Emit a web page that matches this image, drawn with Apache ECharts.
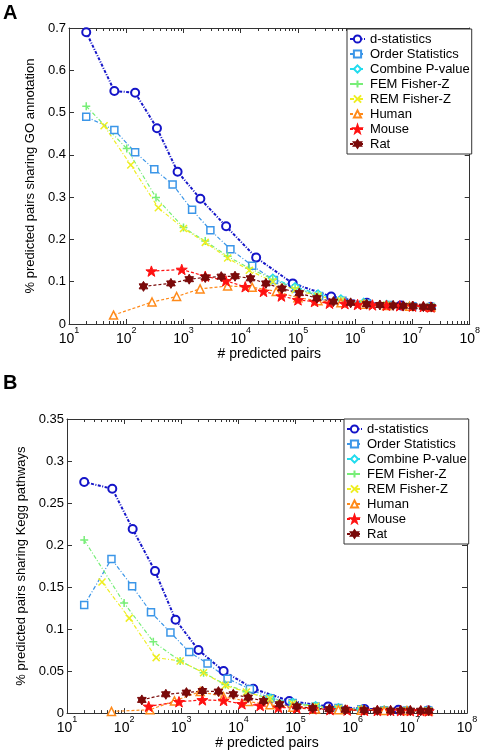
<!DOCTYPE html>
<html><head><meta charset="utf-8">
<script src="https://cdn.jsdelivr.net/npm/echarts@6/dist/echarts.min.js"></script>
<style>html,body{margin:0;padding:0;background:#fff;}#c{width:483px;height:751px;}</style>
</head><body><div id="c"></div>
<script>
// ---------- DATA ----------
const seriesNames = ['d-statistics','Order Statistics','Combine P-value','FEM Fisher-Z','REM Fisher-Z','Human','Mouse','Rat'];
const xMajorTicks = [10,100,1000,10000,100000,1000000,10000000,100000000];
const yTicksA = [0,0.1,0.2,0.3,0.4,0.5,0.6,0.7];
const yTicksB = [0,0.05,0.1,0.15,0.2,0.25,0.3,0.35];
const xAxisTitle = '# predicted pairs';
const yTitleA = '% predicted pairs sharing GO annotation';
const yTitleB = '% predicted pairs sharing Kegg pathways';

// Panel A (GO annotation)
const dStatA_x = [20,62,143,344,789,1970,5550,18600,81000,380000,1600000,6300000,21000000];
const dStatA_y = [0.69,0.551,0.547,0.463,0.360,0.296,0.231,0.157,0.096,0.065,0.050,0.044,0.040];
const orderA_x = [20,62,143,309,646,1413,2951,6607,15850,38000,93000,234000,600000,1600000,4000000,10000000,21000000];
const orderA_y = [0.49,0.459,0.406,0.366,0.330,0.270,0.222,0.177,0.138,0.104,0.084,0.066,0.055,0.049,0.045,0.042,0.040];
const combA_x = [36300,89000,224000,562000,1410000,3550000,8900000,21000000];
const combA_y = [0.108,0.088,0.071,0.059,0.051,0.046,0.042,0.040];
const femA_x = [20,102,331,1000,2400,5900,14100,36300,89000,224000,562000,1410000,3550000,8900000,21000000];
const femA_y = [0.515,0.415,0.299,0.228,0.196,0.160,0.132,0.106,0.085,0.068,0.056,0.049,0.045,0.042,0.040];
const remA_x = [41,120,363,1000,2400,5900,14100,36300,89000,224000,562000,1410000,3550000,8900000,21000000];
const remA_y = [0.469,0.376,0.275,0.226,0.193,0.156,0.127,0.100,0.081,0.066,0.055,0.048,0.045,0.042,0.040];
const humanA_x = [60,282,759,1950,5900,15850,41700,100000,224000,562000,1410000,3550000,8900000,21000000];
const humanA_y = [0.021,0.052,0.065,0.083,0.090,0.087,0.077,0.062,0.055,0.050,0.047,0.044,0.042,0.040];
const mouseA_x = [275,933,2400,5500,12000,25000,51300,100000,195000,355000,660000,1100000,2000000,3500000,6000000,10000000,15500000,21000000];
const mouseA_y = [0.125,0.129,0.113,0.102,0.088,0.077,0.066,0.057,0.053,0.049,0.048,0.046,0.045,0.044,0.043,0.042,0.041,0.040];
const ratA_x = [200,603,1259,2400,4571,7943,14800,27500,52500,105000,214000,417000,832000,1580000,2700000,4600000,6900000,10200000,15500000,21400000];
const ratA_y = [0.089,0.096,0.106,0.110,0.112,0.113,0.108,0.096,0.084,0.073,0.061,0.053,0.050,0.047,0.045,0.044,0.043,0.042,0.041,0.040];

// Panel B (Kegg pathways)
const dStatB_x = [20,62,141,347,794,2000,5500,18200,77600,372000,1600000,6300000,21000000];
const dStatB_y = [0.275,0.267,0.219,0.169,0.111,0.075,0.050,0.029,0.0145,0.008,0.005,0.004,0.003];
const orderB_x = [20,60,138,295,646,1380,2880,6460,15850,36300,89000,224000,562000,1410000,3550000,8900000,21000000];
const orderB_y = [0.1285,0.1835,0.151,0.120,0.096,0.0727,0.059,0.041,0.0287,0.0177,0.012,0.008,0.006,0.0045,0.0035,0.003,0.003];
const combB_x = [35500,89000,224000,562000,1410000,3550000,8900000,21000000];
const combB_y = [0.018,0.0125,0.0088,0.0062,0.0046,0.0036,0.0031,0.0029];
const femB_x = [20,100,324,955,2455,5900,13800,35500,89000,224000,562000,1410000,3550000,8900000,21000000];
const femB_y = [0.206,0.131,0.085,0.062,0.048,0.034,0.0255,0.017,0.0115,0.008,0.0055,0.0042,0.0035,0.003,0.0028];
const remB_x = [41,123,363,955,2455,5900,13800,35500,89000,224000,562000,1410000,3550000,8900000,21000000];
const remB_y = [0.156,0.113,0.066,0.062,0.048,0.033,0.025,0.017,0.0115,0.008,0.0055,0.0042,0.0035,0.003,0.0028];
const humanB_x = [60,282,759,2140,5500,14800,35500,89000,224000,562000,1410000,3550000,8900000,21000000];
const humanB_y = [0.002,0.004,0.0145,0.0256,0.0195,0.0138,0.0098,0.007,0.005,0.004,0.0035,0.003,0.003,0.0028];
const mouseB_x = [269,912,2340,5500,11500,24000,50000,105000,200000,400000,800000,1600000,2700000,4600000,6900000,10200000,15500000,21400000];
const mouseB_y = [0.008,0.0135,0.0157,0.015,0.011,0.009,0.0067,0.006,0.005,0.004,0.0035,0.0032,0.003,0.003,0.0029,0.0028,0.0027,0.0026];
const ratB_x = [204,537,1230,2340,4470,8130,14800,27500,52500,105000,200000,389000,741000,1580000,2700000,4600000,6900000,10200000,15500000,21400000];
const ratB_y = [0.0157,0.0224,0.0244,0.0263,0.0256,0.0224,0.0185,0.0145,0.0106,0.0079,0.0059,0.0047,0.004,0.0035,0.0032,0.003,0.003,0.0029,0.0028,0.0027];

// ---------- STYLE ----------
const FONT = '"Liberation Sans", Arial, sans-serif';
const STAR = 'path://M5,0L6.18,3.38L9.76,3.45L6.9,5.62L7.94,9.05L5,7L2.06,9.05L3.1,5.62L0.24,3.45L3.82,3.38Z';
const HEXA = 'path://M5,0L9.33,7.5L0.67,7.5Z M5,10L0.67,2.5L9.33,2.5Z';
const PLUS = 'path://M5,0L5,10M0,5L10,5';
const CROSS = 'path://M0,0L10,10M10,0L0,10';
const styles = {
  'd-statistics':      {c:'#1414c8', sym:'circle',   size:8,  fill:'#ffffff', bw:2,   lw:2,   dash:[3,1.5,1,1.5]},
  'Order Statistics':  {c:'#3b96e8', sym:'rect',     size:7,  fill:'#ffffff', bw:1.5, lw:1.2, dash:[4,2,1,2]},
  'Combine P-value':   {c:'#22dcee', sym:'diamond',  size:8,  fill:'#ffffff', bw:1.5, lw:1.2, dash:[4,2,1,2]},
  'FEM Fisher-Z':      {c:'#77ee77', sym:PLUS,       size:8,  fill:'none',    bw:1.5, lw:1.2, dash:[4,2,1,2]},
  'REM Fisher-Z':      {c:'#eeee22', sym:CROSS,      size:7,  fill:'none',    bw:1.5, lw:1.2, dash:[4,2,1,2]},
  'Human':             {c:'#ff8a1a', sym:'triangle', size:8,  fill:'#ffffff', bw:1.5, lw:1.2, dash:[3,2]},
  'Mouse':             {c:'#ff1111', sym:STAR,       size:11, fill:'#ff1111', bw:1,   lw:1.2, dash:[3,2]},
  'Rat':               {c:'#7a0a0a', sym:HEXA,       size:10, fill:'#7a0a0a', bw:1,   lw:1.2, dash:[3,2]}
};

const minorTicks = [];
for (let d = 1; d < 8; d++) for (let m = 2; m <= 9; m++) minorTicks.push(m * Math.pow(10, d));

function zip(xs, ys) { return xs.map((x, i) => [x, ys[i]]); }
function mkSeries(name, xs, ys, g) {
  const s = styles[name];
  return {
    type: 'line', name, xAxisIndex: g * 4, yAxisIndex: g * 2,
    data: zip(xs, ys),
    symbol: s.sym, symbolSize: s.size, symbolKeepAspect: true, showAllSymbol: true,
    lineStyle: {color: s.c, width: s.lw, type: s.dash},
    itemStyle: {color: s.fill === 'none' ? 'rgba(255,255,255,0)' : s.fill, borderColor: s.c, borderWidth: s.bw},
    emphasis: {disabled: true}, silent: true, animation: false
  };
}
const axisLineStyle = {color: '#333', width: 1};
function xAxes(g) {
  const base = {type: 'log', logBase: 10, gridIndex: g, min: 10, max: 100000000, splitLine: {show: false}};
  return [
    Object.assign({}, base, {
      position: 'bottom', axisLine: {show: true, lineStyle: axisLineStyle},
      axisTick: {inside: true, length: 5, customValues: xMajorTicks, lineStyle: axisLineStyle},
      axisLabel: {customValues: xMajorTicks, margin: 2, color: '#000', fontFamily: FONT,
        formatter: v => '{b|10}{s|' + Math.round(Math.log10(v)) + '}',
        rich: {b: {fontSize: 14, lineHeight: 20, verticalAlign: 'bottom', fontFamily: FONT, color: '#000'},
               s: {fontSize: 9, lineHeight: 20, verticalAlign: 'top', fontFamily: FONT, color: '#000'}}},
      name: xAxisTitle, nameLocation: 'middle', nameGap: 21,
      nameTextStyle: {fontSize: 14, fontFamily: FONT, color: '#000'}
    }),
    Object.assign({}, base, {position: 'bottom', axisLine: {show: false},
      axisTick: {inside: true, length: 3, customValues: minorTicks, lineStyle: axisLineStyle}, axisLabel: {show: false}}),
    Object.assign({}, base, {position: 'top', axisLine: {show: true, lineStyle: axisLineStyle},
      axisTick: {inside: true, length: 5, customValues: xMajorTicks, lineStyle: axisLineStyle}, axisLabel: {show: false}}),
    Object.assign({}, base, {position: 'top', axisLine: {show: false},
      axisTick: {inside: true, length: 3, customValues: minorTicks, lineStyle: axisLineStyle}, axisLabel: {show: false}})
  ];
}
function yAxes(g, ticks, title, gap) {
  const base = {type: 'value', gridIndex: g, min: ticks[0], max: ticks[ticks.length - 1], interval: ticks[1] - ticks[0],
    splitLine: {show: false}, axisLine: {show: true, lineStyle: axisLineStyle},
    axisTick: {inside: true, length: 5, lineStyle: axisLineStyle}};
  return [
    Object.assign({}, base, {position: 'left',
      axisLabel: {fontSize: 13, color: '#000', fontFamily: FONT, margin: 3, customValues: ticks},
      name: title, nameLocation: 'middle', nameGap: gap, nameRotate: 90,
      nameTextStyle: {fontSize: 13, fontFamily: FONT, color: '#000'}}),
    Object.assign({}, base, {position: 'right', axisLabel: {show: false}})
  ];
}
const legendCommon = {orient: 'vertical', data: seriesNames, backgroundColor: '#fff', borderColor: '#333', borderWidth: 1,
  padding: [3, 2, 3, 2], itemWidth: 15, itemHeight: 9, itemGap: 1, itemTextGap: 4, selectedMode: false,
  textStyle: {fontSize: 13, fontFamily: FONT, color: '#000', lineHeight: 14}};

const panelA = [
  mkSeries('d-statistics', dStatA_x, dStatA_y, 0), mkSeries('Order Statistics', orderA_x, orderA_y, 0),
  mkSeries('Combine P-value', combA_x, combA_y, 0), mkSeries('FEM Fisher-Z', femA_x, femA_y, 0),
  mkSeries('REM Fisher-Z', remA_x, remA_y, 0), mkSeries('Human', humanA_x, humanA_y, 0),
  mkSeries('Mouse', mouseA_x, mouseA_y, 0), mkSeries('Rat', ratA_x, ratA_y, 0)];
const panelB = [
  mkSeries('d-statistics', dStatB_x, dStatB_y, 1), mkSeries('Order Statistics', orderB_x, orderB_y, 1),
  mkSeries('Combine P-value', combB_x, combB_y, 1), mkSeries('FEM Fisher-Z', femB_x, femB_y, 1),
  mkSeries('REM Fisher-Z', remB_x, remB_y, 1), mkSeries('Human', humanB_x, humanB_y, 1),
  mkSeries('Mouse', mouseB_x, mouseB_y, 1), mkSeries('Rat', ratB_x, ratB_y, 1)];

const chart = echarts.init(document.getElementById('c'), null, {renderer: 'canvas'});
chart.setOption({
  animation: false,
  backgroundColor: '#fff',
  grid: [
    {left: 69, right: 13, top: 28, height: 296},
    {left: 67, right: 16, top: 419, height: 296}
  ],
  xAxis: xAxes(0).concat(xAxes(1)),
  yAxis: yAxes(0, yTicksA, yTitleA, 29).concat(yAxes(1, yTicksB, yTitleB, 32)),
  legend: [
    Object.assign({}, legendCommon, {left: 347, top: 29}),
    Object.assign({}, legendCommon, {left: 344, top: 419})
  ],
  graphic: [
    {type: 'text', left: 3, top: 3, style: {text: 'A', font: 'bold 20px "Liberation Sans", Arial', fill: '#000'}},
    {type: 'text', left: 3, top: 373, style: {text: 'B', font: 'bold 20px "Liberation Sans", Arial', fill: '#000'}}
  ],
  series: panelA.concat(panelB)
});
</script>
</body></html>
